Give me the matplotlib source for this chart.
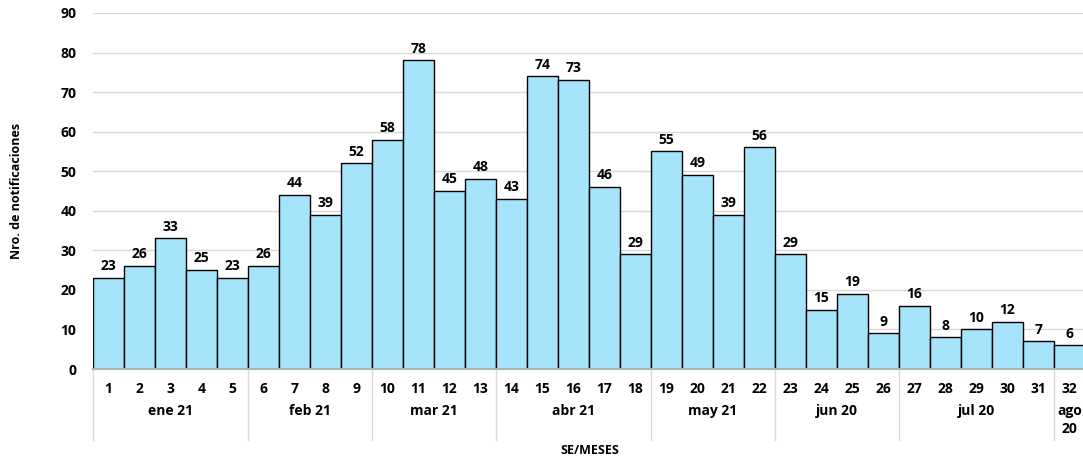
import matplotlib.pyplot as plt
from matplotlib.lines import Line2D

plt.rcParams['font.family'] = ['Open Sans', 'DejaVu Sans']

semanas = list(range(1, 33))
casos = [23, 26, 33, 25, 23, 26, 44, 39, 52, 58, 78, 45, 48, 43, 74, 73, 46, 29,
         55, 49, 39, 56, 29, 15, 19, 9, 16, 8, 10, 12, 7, 6]
meses = ['ene 21', 'feb 21', 'mar 21', 'abr 21', 'may 21', 'jun 20', 'jul 20', 'ago\n20']
semanas_por_mes = [5, 4, 4, 5, 4, 4, 5, 1]

fig = plt.figure(figsize=(10.83, 4.61), dpi=100)
# eje que se sale un poco por la derecha, como en la imagen original
ax = fig.add_axes([93 / 1083, (461 - 369) / 461, 992 / 1083, 356 / 461])

ax.bar(semanas, casos, width=1.0, color='#a6e4fb', edgecolor='black', linewidth=1.0, zorder=3)
for s, c in zip(semanas, casos):
    ax.text(s, c + 1.2, str(c), ha='center', va='bottom', fontsize=10, fontweight='bold', zorder=4)

ax.set_xlim(0.5, 32.5)
ax.set_ylim(0, 90)
ax.set_yticks(range(0, 91, 10))
ax.tick_params(axis='y', length=0, labelsize=10, pad=12)
for lb in ax.get_yticklabels():
    lb.set_fontweight('bold')
ax.grid(axis='y', color='#d9d9d9', linewidth=1, zorder=0)
for sp in ['top', 'right', 'left']:
    ax.spines[sp].set_visible(False)
ax.spines['bottom'].set_color('#a6b4bb')
ax.spines['bottom'].set_linewidth(1.5)
ax.spines['bottom'].set_zorder(5)

ax.set_xticks(semanas)
ax.set_xticklabels([str(s) for s in semanas], fontsize=10, fontweight='bold')
ax.tick_params(axis='x', length=0, pad=9)

# etiquetas de meses y separadores
y_px = lambda py: (369 - py) / 356 * 90
inicio = 0.5
ax.add_line(Line2D([inicio, inicio], [0, y_px(440)], color='#d9d9d9', lw=1, clip_on=False))
for mes, n in zip(meses, semanas_por_mes):
    fin = inicio + n
    ax.text((inicio + fin) / 2, y_px(404), mes, ha='center', va='top', fontsize=10,
            fontweight='bold', linespacing=1.35, clip_on=False)
    ax.add_line(Line2D([fin, fin], [0, y_px(440)], color='#d9d9d9', lw=1, clip_on=False))
    inicio = fin

fig.text(590 / 1083, 1 - 450 / 461, 'SE/MESES', ha='center', va='center', fontsize=9, fontweight='bold')
fig.text(17 / 1083, 1 - 191 / 461, 'Nro. de notificaciones', ha='center', va='center',
         rotation=90, fontsize=9, fontweight='bold')

fig.savefig('out.png', dpi=100)
